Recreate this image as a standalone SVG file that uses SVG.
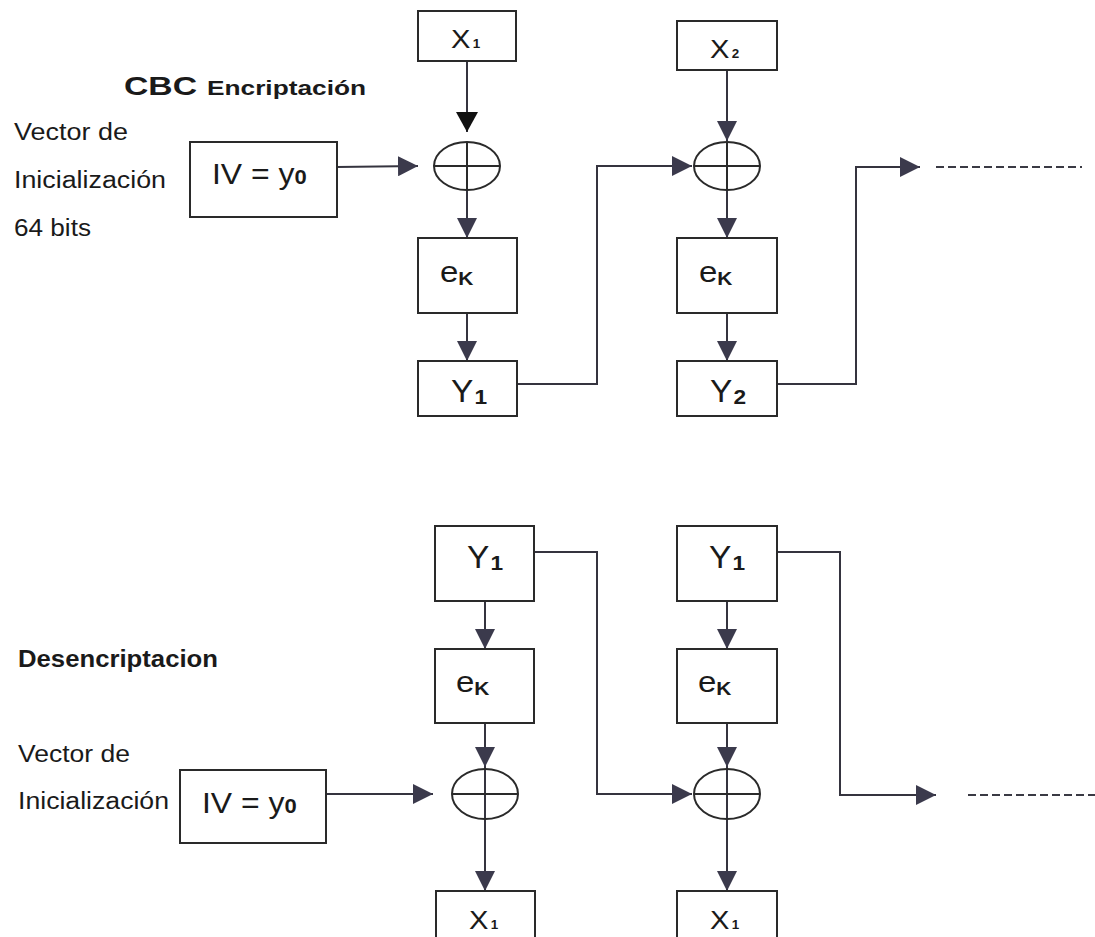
<svg xmlns="http://www.w3.org/2000/svg" width="1095" height="937" viewBox="0 0 1095 937">
  <defs>
    <style>
      .box { fill: #ffffff; stroke: #2a2a2a; stroke-width: 2; }
      .xor { fill: none; stroke: #2a2a2a; stroke-width: 2; }
      .wire { fill: none; stroke: #35343f; stroke-width: 2; }
      .dash { fill: none; stroke: #3a3a44; stroke-width: 2; stroke-dasharray: 8 4; }
      .lbl { font-family: "Liberation Sans", Arial, sans-serif; fill: #1a1a1a; }
      .side { font-family: "Liberation Sans", Arial, sans-serif; fill: #1a1a1a; font-size: 23px; }
      .head { font-family: "Liberation Sans", Arial, sans-serif; fill: #1a1a1a; font-weight: bold; }
      .sub { font-weight: bold; }
    </style>
    <marker id="arr" markerUnits="userSpaceOnUse" markerWidth="20" markerHeight="20" refX="20" refY="10" orient="auto">
      <path d="M0,0 L20,10 L0,20 Z" fill="#3b3a4c"/>
    </marker>
    <marker id="arr-black" markerUnits="userSpaceOnUse" markerWidth="20" markerHeight="22" refX="20" refY="11" orient="auto">
      <path d="M0,0 L20,11 L0,22 Z" fill="#111111"/>
    </marker>
  </defs>

  <!-- Headings and side labels -->
  <g id="titles">
    <text class="head" x="124" y="95" font-size="26" textLength="73" lengthAdjust="spacingAndGlyphs">CBC</text>
    <text class="head" x="207" y="95" font-size="20" textLength="159" lengthAdjust="spacingAndGlyphs">Encriptación</text>
    <text class="side" x="14" y="140" textLength="114" lengthAdjust="spacingAndGlyphs">Vector de</text>
    <text class="side" x="14" y="188" textLength="152" lengthAdjust="spacingAndGlyphs">Inicialización</text>
    <text class="side" x="14" y="236" textLength="77" lengthAdjust="spacingAndGlyphs">64 bits</text>
    <text class="head" x="18" y="667" font-size="23" textLength="200" lengthAdjust="spacingAndGlyphs">Desencriptacion</text>
    <text class="side" x="18" y="762" textLength="112" lengthAdjust="spacingAndGlyphs">Vector de</text>
    <text class="side" x="18" y="809" textLength="151" lengthAdjust="spacingAndGlyphs">Inicialización</text>
  </g>

  <!-- Connectors -->
  <g id="connectors">
    <!-- encryption chain -->
    <line class="wire" x1="467" y1="61" x2="467" y2="132" marker-end="url(#arr-black)"/>
    <line class="wire" x1="337" y1="167" x2="418" y2="166" marker-end="url(#arr)"/>
    <line class="wire" x1="467" y1="190" x2="467" y2="238" marker-end="url(#arr)"/>
    <line class="wire" x1="467" y1="313" x2="467" y2="361" marker-end="url(#arr)"/>
    <polyline class="wire" points="517,384 597,384 597,166 692,166" marker-end="url(#arr)"/>
    <line class="wire" x1="727" y1="70" x2="727" y2="141" marker-end="url(#arr)"/>
    <line class="wire" x1="727" y1="190" x2="727" y2="238" marker-end="url(#arr)"/>
    <line class="wire" x1="727" y1="313" x2="727" y2="361" marker-end="url(#arr)"/>
    <polyline class="wire" points="777,384 856,384 856,167 920,167" marker-end="url(#arr)"/>
    <line class="dash" x1="936" y1="167" x2="1082" y2="167"/>

    <!-- decryption chain -->
    <line class="wire" x1="485" y1="601" x2="485" y2="649" marker-end="url(#arr)"/>
    <line class="wire" x1="485" y1="723" x2="485" y2="767" marker-end="url(#arr)"/>
    <line class="wire" x1="485" y1="767" x2="485" y2="891" marker-end="url(#arr)"/>
    <line class="wire" x1="326" y1="794" x2="433" y2="794" marker-end="url(#arr)"/>
    <polyline class="wire" points="534,552 597,552 597,794 692,794" marker-end="url(#arr)"/>
    <line class="wire" x1="727" y1="601" x2="727" y2="649" marker-end="url(#arr)"/>
    <line class="wire" x1="727" y1="723" x2="727" y2="767" marker-end="url(#arr)"/>
    <line class="wire" x1="727" y1="767" x2="727" y2="891" marker-end="url(#arr)"/>
    <polyline class="wire" points="777,552 840,552 840,795 936,795" marker-end="url(#arr)"/>
    <line class="dash" x1="968" y1="795" x2="1095" y2="795"/>
  </g>

  <!-- Encryption nodes -->
  <g id="enc-x1">
    <rect class="box" x="418" y="11" width="98" height="50"/>
    <text class="lbl" transform="translate(451,48) scale(1.12,1)" font-size="26">X<tspan class="sub" font-size="12" dx="2">1</tspan></text>
  </g>
  <g id="enc-x2">
    <rect class="box" x="677" y="21" width="100" height="49"/>
    <text class="lbl" transform="translate(710,58) scale(1.12,1)" font-size="26">X<tspan class="sub" font-size="12" dx="2">2</tspan></text>
  </g>
  <g id="enc-iv">
    <rect class="box" x="190" y="142" width="147" height="75"/>
    <text class="lbl" transform="translate(212,184) scale(1.1,1)" font-size="29">IV = y<tspan class="sub" font-size="20">0</tspan></text>
  </g>
  <g id="enc-xor1">
    <ellipse class="xor" cx="467" cy="166" rx="33" ry="24"/>
    <line class="xor" x1="434" y1="166" x2="500" y2="166"/>
    <line class="xor" x1="467" y1="142" x2="467" y2="190"/>
  </g>
  <g id="enc-xor2">
    <ellipse class="xor" cx="727" cy="166" rx="33" ry="24"/>
    <line class="xor" x1="694" y1="166" x2="760" y2="166"/>
    <line class="xor" x1="727" y1="142" x2="727" y2="190"/>
  </g>
  <g id="enc-ek1">
    <rect class="box" x="418" y="238" width="99" height="75"/>
    <text class="lbl" transform="translate(440,282) scale(1.1,1)" font-size="30">e<tspan class="sub" font-size="19" dy="3">K</tspan></text>
  </g>
  <g id="enc-ek2">
    <rect class="box" x="677" y="238" width="100" height="75"/>
    <text class="lbl" transform="translate(699,282) scale(1.1,1)" font-size="30">e<tspan class="sub" font-size="19" dy="3">K</tspan></text>
  </g>
  <g id="enc-y1">
    <rect class="box" x="418" y="361" width="99" height="55"/>
    <text class="lbl" transform="translate(451,402) scale(1.08,1)" font-size="31">Y<tspan class="sub" font-size="21" dx="1" dy="2">1</tspan></text>
  </g>
  <g id="enc-y2">
    <rect class="box" x="677" y="361" width="100" height="55"/>
    <text class="lbl" transform="translate(710,402) scale(1.08,1)" font-size="31">Y<tspan class="sub" font-size="21" dx="1" dy="2">2</tspan></text>
  </g>

  <!-- Decryption nodes -->
  <g id="dec-y1a">
    <rect class="box" x="435" y="526" width="99" height="75"/>
    <text class="lbl" transform="translate(467,568) scale(1.08,1)" font-size="31">Y<tspan class="sub" font-size="21" dx="1" dy="2">1</tspan></text>
  </g>
  <g id="dec-y1b">
    <rect class="box" x="677" y="526" width="100" height="75"/>
    <text class="lbl" transform="translate(709,568) scale(1.08,1)" font-size="31">Y<tspan class="sub" font-size="21" dx="1" dy="2">1</tspan></text>
  </g>
  <g id="dec-ek1">
    <rect class="box" x="435" y="649" width="99" height="74"/>
    <text class="lbl" transform="translate(456,692) scale(1.1,1)" font-size="30">e<tspan class="sub" font-size="19" dy="3">K</tspan></text>
  </g>
  <g id="dec-ek2">
    <rect class="box" x="677" y="649" width="100" height="74"/>
    <text class="lbl" transform="translate(698,692) scale(1.1,1)" font-size="30">e<tspan class="sub" font-size="19" dy="3">K</tspan></text>
  </g>
  <g id="dec-iv">
    <rect class="box" x="180" y="770" width="146" height="73"/>
    <text class="lbl" transform="translate(202,813) scale(1.1,1)" font-size="29">IV = y<tspan class="sub" font-size="20">0</tspan></text>
  </g>
  <g id="dec-xor1">
    <ellipse class="xor" cx="485" cy="794" rx="33" ry="25"/>
    <line class="xor" x1="452" y1="794" x2="518" y2="794"/>
  </g>
  <g id="dec-xor2">
    <ellipse class="xor" cx="727" cy="794" rx="33" ry="25"/>
    <line class="xor" x1="694" y1="794" x2="760" y2="794"/>
  </g>
  <g id="dec-x1a">
    <rect class="box" x="436" y="891" width="99" height="60"/>
    <text class="lbl" transform="translate(469,929) scale(1.12,1)" font-size="26">X<tspan class="sub" font-size="12" dx="2">1</tspan></text>
  </g>
  <g id="dec-x1b">
    <rect class="box" x="677" y="891" width="100" height="60"/>
    <text class="lbl" transform="translate(710,929) scale(1.12,1)" font-size="26">X<tspan class="sub" font-size="12" dx="2">1</tspan></text>
  </g>
</svg>
